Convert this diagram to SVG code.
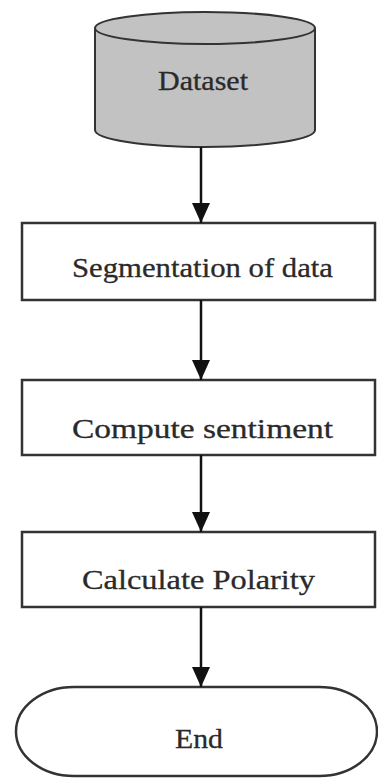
<svg xmlns="http://www.w3.org/2000/svg" width="378" height="778" viewBox="0 0 378 778">
<defs>
<marker id="ah" viewBox="0 0 20 18" refX="20" refY="9" markerWidth="20" markerHeight="18" markerUnits="userSpaceOnUse" orient="auto">
<path d="M0,0 L20,9 L0,18 Z" fill="#111"/>
</marker>
<style>
.box{fill:#fff;stroke:#333;stroke-width:2.5}
.cyl{fill:#c2c2c2;stroke:#333;stroke-width:2}
.t{font-family:"Liberation Serif","Times New Roman",serif;font-size:28px;fill:#2a2a2a;stroke:#2a2a2a;stroke-width:0.3;text-anchor:middle}
.c{stroke:#111;stroke-width:2.5;fill:none}
</style>
</defs>
<rect width="378" height="778" fill="#fff"/>
<g id="dataset">
<path class="cyl" d="M95,28 L95,130 A110,17 0 0 0 315,130 L315,28"/>
<ellipse class="cyl" cx="205" cy="28" rx="110" ry="16" fill="#c8c8c8"/>
<text class="t" x="203" y="90" textLength="90" lengthAdjust="spacingAndGlyphs">Dataset</text>
</g>
<g id="segmentation">
<rect class="box" x="22" y="223" width="353" height="77"/>
<text class="t" x="202.5" y="277" textLength="261" lengthAdjust="spacingAndGlyphs">Segmentation of data</text>
</g>
<g id="compute">
<rect class="box" x="22" y="380" width="353" height="75"/>
<text class="t" x="202.5" y="438" textLength="261" lengthAdjust="spacingAndGlyphs">Compute sentiment</text>
</g>
<g id="polarity">
<rect class="box" x="22" y="532" width="353" height="75"/>
<text class="t" x="198.5" y="589" textLength="233" lengthAdjust="spacingAndGlyphs">Calculate Polarity</text>
</g>
<g id="end">
<rect class="box" x="16" y="687" width="361" height="89" rx="58" ry="44.5"/>
<text class="t" x="199" y="748" textLength="48" lengthAdjust="spacingAndGlyphs">End</text>
</g>
<g id="connectors">
<line class="c" x1="201" y1="147" x2="201" y2="223" marker-end="url(#ah)"/>
<line class="c" x1="201" y1="300" x2="201" y2="380" marker-end="url(#ah)"/>
<line class="c" x1="201" y1="455" x2="201" y2="532" marker-end="url(#ah)"/>
<line class="c" x1="201" y1="607" x2="201" y2="687" marker-end="url(#ah)"/>
</g>
</svg>
